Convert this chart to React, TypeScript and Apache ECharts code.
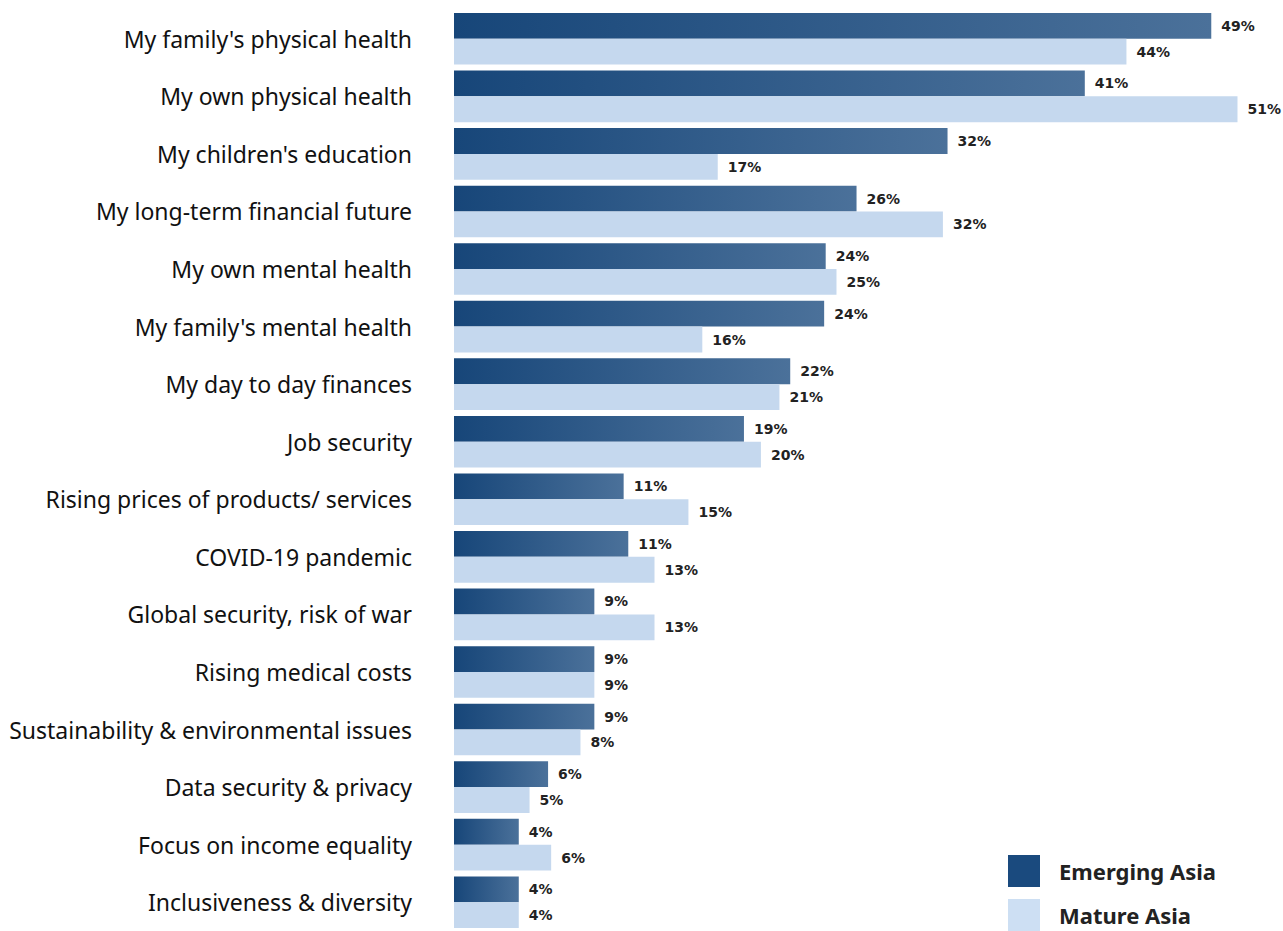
import React, { useEffect, useRef } from "react";
import * as echarts from "echarts";

const categories = [
  "My family's physical health",
  "My own physical health",
  "My children's education",
  "My long-term financial future",
  "My own mental health",
  "My family's mental health",
  "My day to day finances",
  "Job security",
  "Rising prices of products/ services",
  "COVID-19 pandemic",
  "Global security, risk of war",
  "Rising medical costs",
  "Sustainability & environmental issues",
  "Data security & privacy",
  "Focus on income equality",
  "Inclusiveness & diversity",
];

const emergingAsia = [49.1, 40.9, 32.0, 26.1, 24.1, 24.0, 21.8, 18.8, 11.0, 11.3, 9.1, 9.1, 9.1, 6.1, 4.2, 4.2];
const matureAsia = [43.6, 50.8, 17.1, 31.7, 24.8, 16.1, 21.1, 19.9, 15.2, 13.0, 13.0, 9.1, 8.2, 4.9, 6.3, 4.2];

const seriesNames = ["Emerging Asia", "Mature Asia"];

export default function App() {
  const ref = useRef<HTMLDivElement>(null);
  useEffect(() => {
    if (!ref.current) return;
    const chart = echarts.init(ref.current, undefined, { renderer: "svg" });
    const font = "'Noto Sans', sans-serif";
    const labelCfg = {
      show: true,
      position: "right",
      distance: 10,
      fontSize: 14,
      fontWeight: "bold",
      color: "#222",
      fontFamily: "'DejaVu Sans', sans-serif",
      formatter: (p: any) => Math.round(p.value) + "%",
    };
    const legendBase = {
      orient: "vertical",
      left: 1008,
      padding: 0,
      itemWidth: 32,
      itemHeight: 32,
      icon: "rect",
      textStyle: {
        fontSize: 22,
        lineHeight: 22,
        fontWeight: "bold",
        color: "#222",
        fontFamily: font,
        padding: [0, 0, 0, 14],
      },
    };
    chart.setOption({
      animation: false,
      grid: { left: 454, top: 10, width: 802, height: 928, containLabel: false },
      xAxis: {
        type: "value",
        min: 0,
        max: 52,
        show: false,
      },
      yAxis: {
        type: "category",
        data: categories,
        inverse: true,
        axisLine: { show: false },
        axisTick: { show: false },
        splitLine: { show: false },
        axisLabel: { margin: 42, fontSize: 23, color: "#111", fontFamily: font },
      },
      legend: [
        {
          ...legendBase,
          top: 855,
          data: [{ name: seriesNames[0], itemStyle: { color: "#1a4a7e" } }],
        },
        {
          ...legendBase,
          top: 899,
          data: [{ name: seriesNames[1], itemStyle: { color: "#cddff3" } }],
        },
      ],
      series: [
        {
          name: seriesNames[0],
          type: "bar",
          data: emergingAsia,
          barGap: "0%",
          barCategoryGap: "10.3%",
          itemStyle: {
            color: new echarts.graphic.LinearGradient(0, 0, 1, 0, [
              { offset: 0, color: "#174679" },
              { offset: 1, color: "#4b719a" },
            ]),
          },
          label: labelCfg,
        },
        {
          name: seriesNames[1],
          type: "bar",
          data: matureAsia,
          barGap: "0%",
          barCategoryGap: "10.3%",
          itemStyle: { color: "#c5d8ee" },
          label: labelCfg,
        },
      ],
    });
    return () => chart.dispose();
  }, []);
  return (
    <div
      ref={ref}
      style={{ position: "absolute", left: 0, top: 0, width: 1283, height: 931, background: "#fff" }}
    />
  );
}
